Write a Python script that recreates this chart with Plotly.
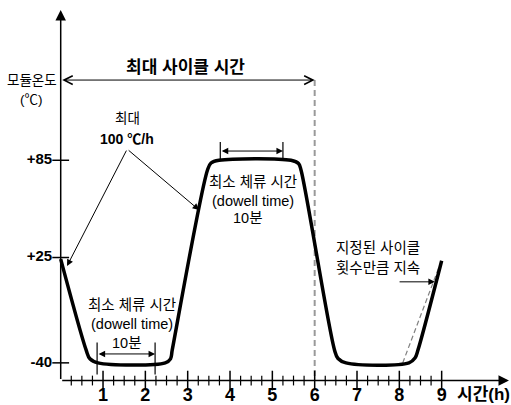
import plotly.graph_objects as go

# ---- data ----
time_h = [0.0, 0.6, 0.69, 0.88, 2.47, 2.595, 2.635, 3.468, 3.551, 3.74,
          5.44, 5.618, 5.677, 6.468, 6.551, 6.74, 8.228, 8.37, 8.441, 9.0]
temp_c = [24, -32, -37.5, -40, -40, -37.5, -32, 79, 83.3, 85,
          85, 83, 79, -32, -37.3, -40, -40, -37, -32, 23]

y_levels = [-40, 25, 85]
y_labels = ["-40", "+25", "+85"]
x_major = [1, 2, 3, 4, 5, 6, 7, 8, 9]
x_labels = ["1", "2", "3", "4", "5", "6", "7", "8", "9"]
x_minor = [q / 4 for q in range(1, 36) if q % 4]

cycle_end_h = 6
dwell_top = [3.77, 5.25]
dwell_bottom = [0.86, 2.23]
repeat_dash_t = [8.08, 8.95]
repeat_dash_T = [-40, 20]

# ---- geometry of the schematic axes (data units) ----
AX_T = -50.9      # level of the time axis
TOP_T = 177.7     # tip of temperature axis
END_H = 10.59     # tip of time axis
CYCLE_T = 134.5   # level of "max cycle time" arrow

LAT = "Liberation Sans Narrow, Liberation Sans, Noto Sans CJK KR"
TXT = "Liberation Sans, Noto Sans CJK KR"

fig = go.Figure()

# dashed cycle boundary
fig.add_trace(go.Scatter(x=[cycle_end_h, cycle_end_h], y=[CYCLE_T, AX_T], mode="lines",
                         line=dict(color="#9a9a9a", width=2, dash="6px,4px"), hoverinfo="skip"))
# dashed repeat line
fig.add_trace(go.Scatter(x=repeat_dash_t, y=repeat_dash_T, mode="lines",
                         line=dict(color="#808080", width=1.2, dash="5px,3px"), hoverinfo="skip"))

# main profile
fig.add_trace(go.Scatter(x=time_h, y=temp_c, mode="lines",
                         line=dict(color="black", width=3.5, shape="spline", smoothing=1.0),
                         hoverinfo="skip"))

# ticks on x axis
fig.add_trace(go.Scatter(x=x_major, y=[AX_T] * len(x_major), mode="markers",
                         marker=dict(symbol="line-ns", size=14, line=dict(color="black", width=1.5)),
                         hoverinfo="skip"))
fig.add_trace(go.Scatter(x=x_minor, y=[AX_T] * len(x_minor), mode="markers",
                         marker=dict(symbol="line-ns", size=7, line=dict(color="black", width=1.2)),
                         hoverinfo="skip"))
# ticks on y axis
fig.add_trace(go.Scatter(x=[0] * len(y_levels), y=y_levels, mode="markers",
                         marker=dict(symbol="line-ew", size=12, line=dict(color="black", width=1.5)),
                         hoverinfo="skip"))
# dwell bars
fig.add_trace(go.Scatter(x=dwell_top, y=[90.7, 90.7], mode="markers",
                         marker=dict(symbol="line-ns", size=13, line=dict(color="black", width=1.2)),
                         hoverinfo="skip"))
fig.add_trace(go.Scatter(x=dwell_bottom, y=[-37.3, -37.3], mode="markers",
                         marker=dict(symbol="line-ns", size=23, line=dict(color="black", width=1.2)),
                         hoverinfo="skip"))

# tick labels
fig.add_trace(go.Scatter(x=[-0.2] * len(y_levels), y=y_levels, mode="text", text=y_labels,
                         textposition="middle left",
                         textfont=dict(family=LAT, size=15, color="black", weight="bold"),
                         hoverinfo="skip"))
fig.add_trace(go.Scatter(x=x_major, y=[-60.8] * len(x_major), mode="text", text=x_labels,
                         textposition="middle center",
                         textfont=dict(family=LAT, size=18, color="black", weight="bold"),
                         hoverinfo="skip"))

ann = []


def arrow(x, y, ax, ay, head=2, size=1.0, width=1.0, both=False):
    ann.append(dict(x=x, y=y, ax=ax, ay=ay, xref="x", yref="y", axref="x", ayref="y",
                    text="", showarrow=True, arrowhead=head, arrowsize=size, arrowwidth=width,
                    arrowcolor="black", arrowside="end+start" if both else "end",
                    startarrowhead=head, startarrowsize=size))


def label(x, y, text, size=14, bold=False, family=TXT, xanchor="center"):
    ann.append(dict(x=x, y=y, xref="x", yref="y", text=text, showarrow=False,
                    xanchor=xanchor, yanchor="middle",
                    font=dict(family=family, size=size, color="black",
                              weight="bold" if bold else "normal")))


# axes
arrow(0, TOP_T, 0, AX_T, head=2, size=1.4, width=1.5)
arrow(END_H, AX_T, 0, AX_T, head=2, size=1.4, width=1.5)

# max cycle time
arrow(cycle_end_h, CYCLE_T, 0, CYCLE_T, head=5, size=1.7, width=1.0, both=True)
label(2.94, 142.5, "최대 사이클 시간", size=17, bold=True)

# y-axis title
label(-0.68, 134.5, "모듈온도", size=13.5)
label(-0.68, 122.5, "(℃)", size=13.5)

# max ramp rate
label(1.57, 110.5, "최대", size=13.5)
label(1.57, 98.0, "100 ℃/h", size=14, bold=True, family=LAT)
arrow(0.15, 19.8, 1.57, 91.9, head=2, size=1.3, width=1.0)
arrow(3.27, 54.3, 1.57, 91.9, head=2, size=1.3, width=1.0)

# dwell at top
arrow(dwell_top[1], 90.7, dwell_top[0], 90.7, head=2, size=1.3, width=1.0, both=True)
label(4.55, 71.6, "최소 체류 시간", size=14.5)
label(4.55, 59.9, "(dowell time)", size=14.5)
label(4.42, 49.4, "10분", size=14.5)

# dwell at bottom
arrow(dwell_bottom[1], -34.5, dwell_bottom[0], -34.5, head=2, size=1.3, width=1.0, both=True)
label(1.69, -4.3, "최소 체류 시간", size=14.5)
label(1.69, -16.1, "(dowell time)", size=14.5)
label(1.56, -27.8, "10분", size=14.5)

# repeat note
label(7.5, 30.9, "지정된 사이클", size=14.5)
label(7.5, 18.5, "횟수만큼 지속", size=14.5)
arrow(8.84, 10.0, 7.97, 10.0, head=2, size=1.3, width=1.0)

# x-axis title
label(10.0, -59.5, "시간(h)", size=17, bold=True, family=LAT)

fig.update_layout(
    width=511, height=405,
    margin=dict(l=0, r=0, t=0, b=0),
    paper_bgcolor="white", plot_bgcolor="white",
    showlegend=False,
    xaxis=dict(range=[-1.434, 10.638], visible=False, fixedrange=True),
    yaxis=dict(range=[-66.0, 183.9], visible=False, fixedrange=True),
    annotations=ann,
)

fig.write_html("out.html")
